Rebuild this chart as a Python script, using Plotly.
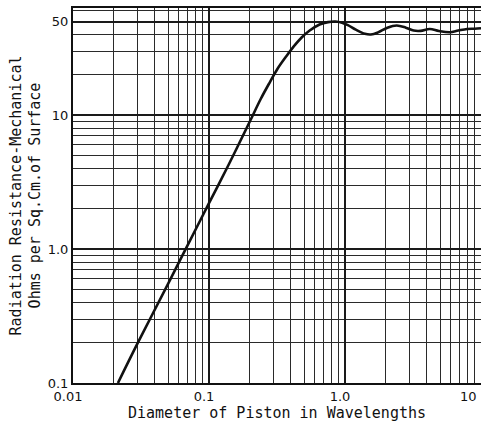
import numpy as np
import plotly.graph_objects as go

# curve (diameter / wavelength -> ohms per sq.cm)
DIAM = [0.0214, 0.03, 0.05, 0.07, 0.1, 0.14, 0.2, 0.24, 0.28, 0.32, 0.37, 0.42,
        0.48, 0.55, 0.65, 0.75, 0.85, 0.95, 1.05, 1.2, 1.4, 1.55, 1.75, 2.05,
        2.4, 2.8, 3.2, 3.6, 4.2, 4.9, 5.9, 6.8, 7.9, 9.0, 10.0]
RES = [0.1, 0.2, 0.55, 1.08, 2.2, 4.3, 9.0, 13.2, 17.6, 22.3, 27.5, 32.6,
       38.0, 42.8, 47.5, 49.5, 50.0, 49.0, 47.0, 43.5, 40.5, 40.0, 41.5, 45.0,
       46.7, 45.0, 42.8, 42.6, 44.0, 42.5, 41.6, 42.8, 44.0, 44.2, 44.6]

X_TICKS = [0.01, 0.1, 1, 10]
X_TEXT = ["0.01", "0.1", "1.0", "10"]
Y_TICKS = [0.1, 1, 10, 50]
Y_TEXT = ["0.1", "1.0", "10", "50"]

INK = "#111111"
FONT = "DejaVu Sans"
TITLE_FONT = "DejaVu Sans Mono"

minor_x = [m * 10.0 ** e for e in (-2, -1, 0) for m in range(2, 10)]
minor_y = [m * 10.0 ** e for e in (-1, 0, 1) for m in range(2, 10)]

# the last x label sits on the window edge: draw it right-aligned instead
x_text = X_TEXT[:-1] + [""]

fig = go.Figure(go.Scatter(x=DIAM, y=RES, mode="lines",
                           line=dict(color=INK, width=2.6, shape="spline", smoothing=1.0),
                           hoverinfo="skip"))

axis_common = dict(type="log", showline=True, linecolor=INK, linewidth=2, mirror=True,
                   showgrid=True, gridcolor="#1a1a1a", gridwidth=2, zeroline=False,
                   ticks="", automargin=False,
                   tickfont=dict(size=13, color=INK, family=FONT))

fig.add_annotation(text=X_TEXT[-1], xref="x", x=np.log10(X_TICKS[-1]), xanchor="right",
                   xshift=-2, yref="paper", y=0, yanchor="top", yshift=-4,
                   showarrow=False, font=dict(size=13, color=INK, family=FONT))

fig.update_layout(
    width=481, height=428,
    paper_bgcolor="white", plot_bgcolor="white",
    margin=dict(l=73, r=0, t=8, b=45, autoexpand=False),
    showlegend=False,
    font=dict(family=FONT, color=INK),
    xaxis=dict(range=[-2, 1], tickvals=X_TICKS, ticktext=x_text,
               ticklabelshift=-5,
               minor=dict(tickvals=minor_x, showgrid=True, gridcolor="#2a2a2a", gridwidth=1.4),
               title=dict(text="Diameter of Piston in Wavelengths",
                          font=dict(size=15, family=TITLE_FONT), standoff=0),
               **axis_common),
    yaxis=dict(range=[-1, 1.8], tickvals=Y_TICKS, ticktext=Y_TEXT,
               minor=dict(tickvals=minor_y, showgrid=True, gridcolor="#2a2a2a", gridwidth=1.4),
               title=dict(text="Radiation Resistance-Mechanical<br>Ohms per Sq.Cm.of Surface",
                          font=dict(size=15, family=TITLE_FONT), standoff=3),
               **axis_common),
)

# drop the browser's default page margin so the chart sits at the window corner
fig.write_html("out.html", config=dict(displayModeBar=False),
               post_script="document.body.style.margin='0';")
